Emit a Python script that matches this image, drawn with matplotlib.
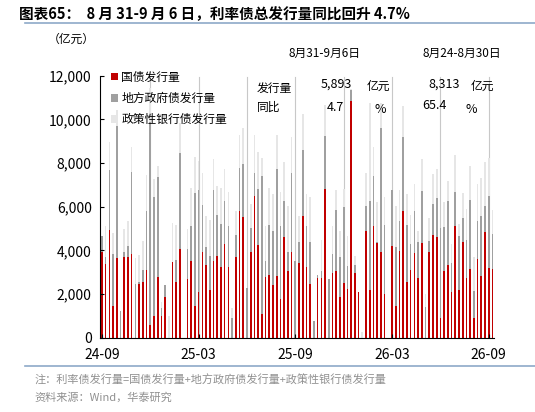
import matplotlib.pyplot as plt
import numpy as np

plt.rcParams['font.family'] = ['Noto Sans CJK SC', 'DejaVu Sans']

# top of each stack level (亿元): red top, red+gray top, total
red_top = [3950, 3400, 4950, 1480, 3650, 0, 3680, 3680, 3830, 0, 2460, 2580, 3110, 600, 1000, 2800,
           1000, 1890, 0, 3480, 2550, 4060, 0, 2700, 3500, 1440, 2090, 3950, 3340, 2200, 3500, 3760,
           3240, 4300, 3240, 0, 3680, 5830, 5530, 0, 3920, 6500, 4260, 1100, 2780, 2890, 2430, 2840,
           1790, 4640, 3080, 3910, 0, 3450, 5600, 3240, 2460, 0, 2730, 2730, 6810, 0, 2960, 3080,
           1860, 2500, 2230, 10830, 2960, 2090, 0, 4900, 2170, 5100, 4340, 3910, 2000, 0, 4210, 1480,
           3990, 5790, 2550, 3110, 3880, 2730, 4340, 0, 3910, 4690, 4600, 900, 3070, 3340, 2120, 5100,
           2200, 4370, 2730, 3150, 900, 3600, 2810, 4830, 3190, 3170]
gray_top = [4650, 3700, 7700, 3850, 9700, 1250, 3950, 4200, 7600, 2470, 2580, 3110, 5830, 9900, 6430, 7350,
            1360, 2430, 0, 3480, 3570, 8460, 0, 4080, 5100, 6630, 6780, 6090, 4180, 3730, 6780, 5630,
            5220, 6280, 5100, 930, 4720, 7770, 7960, 2280, 5010, 7570, 6830, 7420, 3500, 5180, 4900, 7730,
            5130, 6280, 3950, 7540, 3500, 4370, 8580, 5100, 4370, 750, 2890, 3080, 9250, 2690, 3850, 5860,
            3700, 5970, 3300, 11360, 3340, 2120, 0, 6060, 6250, 7390, 4370, 9600, 5180, 0, 6750, 4150,
            5330, 9180, 5180, 4290, 5790, 4410, 6730, 1390, 4440, 6140, 6400, 5020, 5070, 6280, 3450, 6670,
            4660, 5480, 4490, 6320, 2150, 5370, 5600, 6020, 6500, 4750]
total = [4650, 5100, 8950, 4800, 10450, 1250, 4980, 5370, 8750, 3650, 3800, 4440, 7470, 11440, 7270, 7850,
         1660, 2430, 980, 5280, 5180, 9830, 0, 4990, 6860, 8300, 8080, 7540, 5560, 5400, 8180, 6960,
         6860, 7730, 6700, 1360, 5790, 9300, 9600, 2280, 6120, 9300, 8490, 8230, 5130, 6860, 6580, 9300,
         6660, 8030, 6020, 9180, 3500, 5600, 10260, 6600, 6430, 750, 2890, 4490, 10670, 2690, 5130, 6780,
         4870, 6800, 4670, 11400, 3760, 2120, 290, 7570, 10750, 8760, 6200, 10750, 6470, 0, 6750, 6020,
         6780, 10600, 6600, 5630, 7050, 4900, 8180, 2000, 5480, 7510, 7730, 5020, 6200, 7160, 4290, 8380,
         5210, 6630, 5890, 7880, 3680, 7050, 7310, 8030, 8230, 5860]
tick_labels = ['24-09', '25-03', '25-09', '26-03', '26-09']

red_top = np.array(red_top)
gray_top = np.array(gray_top)
total = np.array(total)
guozhai = red_top
difang = gray_top - red_top
zhengce = total - gray_top
x = np.arange(len(guozhai))

fig = plt.figure(figsize=(5.35, 4.12), dpi=100)
ax = fig.add_axes([0.187, 0.18, 0.737, 0.636])

for q in range(13, len(x), 13):
    ax.axvline(q, color='#c8c8c8', lw=0.8, ymax=0.995, zorder=0)

w = 0.45
ax.bar(x, guozhai, w, color='#c00000', label='国债发行量')
ax.bar(x, difang, w, bottom=guozhai, color='#a0a0a0', label='地方政府债发行量')
ax.bar(x, zhengce, w, bottom=gray_top, color='#e6e6e6', label='政策性银行债发行量')

ax.set_ylim(0, 12000)
ax.set_xlim(-0.5, len(x) - 0.5)
ax.set_yticks(range(0, 12001, 2000))
ax.set_yticklabels([f'{v:,}' for v in range(0, 12001, 2000)], fontsize=10)
ax.set_xticks([0, 26, 52, 78, 104])
ax.set_xticklabels(tick_labels, fontsize=10)
ax.tick_params(direction='in', length=3)
ax.tick_params(axis='x', pad=7)
ax.tick_params(axis='y', pad=6)
for s in ['top', 'right']:
    ax.spines[s].set_visible(False)

leg = ax.legend(loc='upper left', bbox_to_anchor=(0.0, 1.06), frameon=False, fontsize=8.5,
                handlelength=0.6, handleheight=0.6, handletextpad=0.3, labelspacing=0.7)

fig.text(0.035, 0.965, '图表65：  8 月 31-9 月 6 日，利率债总发行量同比回升 4.7%', fontsize=10.5,
         fontweight='bold', va='center')
fig.add_artist(plt.Line2D([0.047, 1.0], [0.943, 0.943], color='#8ea9c8', lw=1.2))
fig.text(0.09, 0.905, '（亿元）', fontsize=8.5, va='center')

fig.text(0.54, 0.87, '8月31-9月6日', fontsize=8.5, va='center')
fig.text(0.79, 0.87, '8月24-8月30日', fontsize=8.5, va='center')
fig.text(0.48, 0.785, '发行量', fontsize=8.5, va='center')
fig.text(0.48, 0.74, '同比', fontsize=8.5, va='center')
fig.text(0.60, 0.795, '5,893', fontsize=9, va='center')
fig.text(0.685, 0.79, '亿元', fontsize=8.5, va='center')
fig.text(0.61, 0.74, '4.7', fontsize=9, va='center')
fig.text(0.70, 0.735, '%', fontsize=9, va='center')
fig.text(0.80, 0.795, '8,313', fontsize=9, va='center')
fig.text(0.88, 0.79, '亿元', fontsize=8.5, va='center')
fig.text(0.79, 0.745, '65.4', fontsize=9, va='center')
fig.text(0.87, 0.735, '%', fontsize=9, va='center')

fig.add_artist(plt.Line2D([0.047, 1.0], [0.112, 0.112], color='#8ea9c8', lw=1.2))
fig.text(0.065, 0.078, '注：利率债发行量=国债发行量+地方政府债发行量+政策性银行债发行量', fontsize=8,
         color='#909090', va='center')
fig.text(0.065, 0.035, '资料来源：Wind，华泰研究', fontsize=8, color='#909090', va='center')

fig.savefig('out.png', dpi=100)
